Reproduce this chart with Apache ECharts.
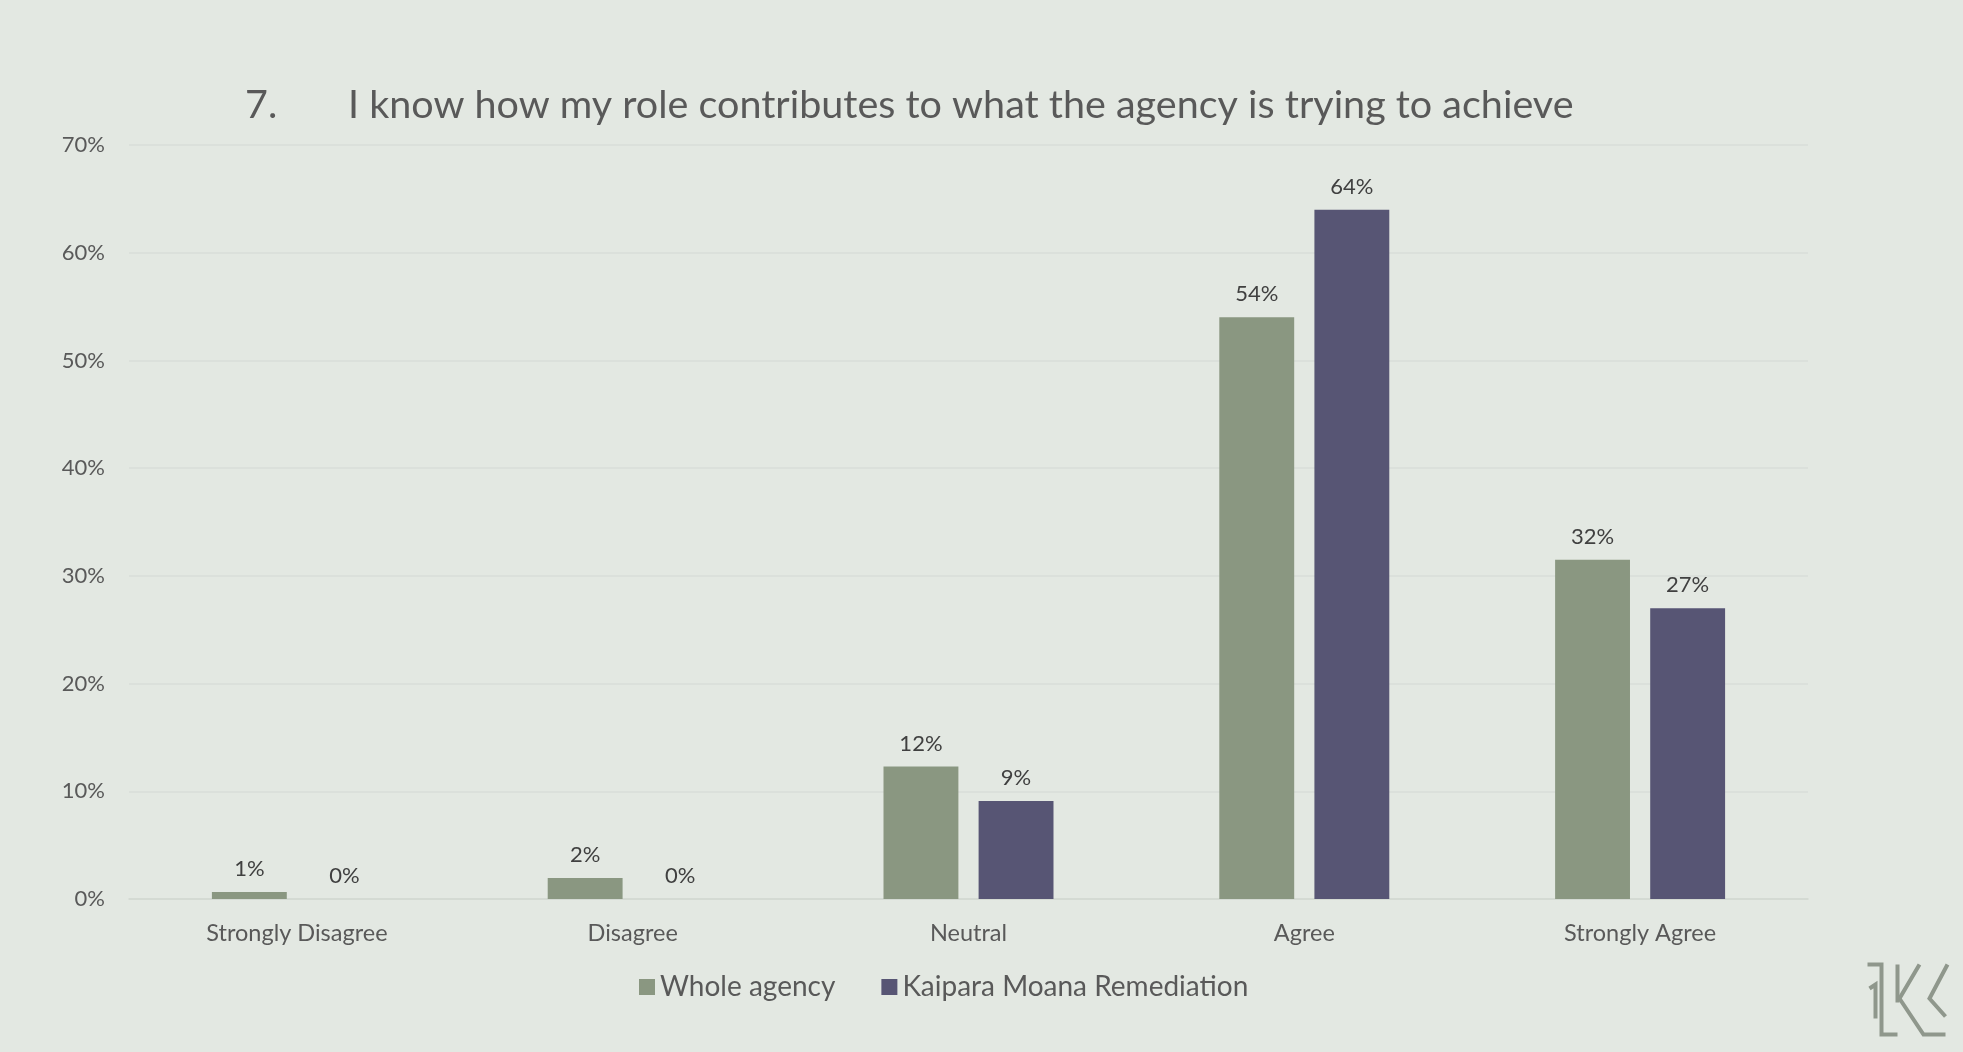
<!DOCTYPE html>
<html>
<head>
<meta charset="utf-8">
<script src="https://cdn.jsdelivr.net/npm/echarts@6/dist/echarts.min.js"></script>
<style>
html,body{margin:0;padding:0;background:#e3e8e2;}
#chart{width:1963px;height:1052px;}
</style>
</head>
<body>
<div id="chart"></div>
<script>
const categories = ['Strongly Disagree', 'Disagree', 'Neutral', 'Agree', 'Strongly Agree'];
const wholeAgency = [0.65, 1.95, 12.3, 54, 31.5];
const kaipara = [0, 0, 9.1, 64, 27];
const seriesNames = ['Whole agency', 'Kaipara Moana Remediation'];
const titleNumber = '7.';
const titleText = 'I know how my role contributes to what the agency is trying to achieve';

const FONT = 'Lato';
const chart = echarts.init(document.getElementById('chart'));
const labelCfg = {
  show: true, position: 'top', distance: 12,
  color: '#404040', fontFamily: FONT, fontSize: 22,
  formatter: p => Math.round(p.value) + '%'
};
chart.setOption({
  backgroundColor: '#e3e8e2',
  title: {
    text: '{n|' + titleNumber + '}{t|' + titleText + '}',
    left: 240, top: 80,
    textStyle: {
      fontWeight: 'normal',
      rich: {
        n: { width: 103, fontFamily: FONT, fontSize: 39.5, fontWeight: 'normal', color: '#595959' },
        t: { fontFamily: FONT, fontSize: 39.5, fontWeight: 'normal', color: '#595959' }
      }
    }
  },
  legend: {
    left: 634, top: 968,
    itemWidth: 16, itemHeight: 16, itemGap: 46,
    icon: 'rect',
    textStyle: { fontFamily: FONT, fontSize: 28, color: '#595959' },
    data: seriesNames
  },
  grid: { left: 129, right: 155, top: 145, bottom: 153, containLabel: false },
  xAxis: {
    type: 'category', data: categories,
    axisLine: { lineStyle: { color: '#d2d7d1', width: 1.5 } },
    axisTick: { show: false },
    axisLabel: { margin: 22, fontFamily: FONT, fontSize: 23.5, color: '#595959' }
  },
  yAxis: {
    type: 'value', min: 0, max: 70, interval: 10,
    axisLine: { show: false }, axisTick: { show: false },
    splitLine: { lineStyle: { color: '#d9ded8', width: 1.5 } },
    axisLabel: { margin: 24, fontFamily: FONT, fontSize: 22, color: '#595959', formatter: '{value}%' }
  },
  series: [
    { name: seriesNames[0], type: 'bar', data: wholeAgency, barWidth: '22.3%', barGap: '27%',
      itemStyle: { color: '#8a9781' }, label: labelCfg },
    { name: seriesNames[1], type: 'bar', data: kaipara, barWidth: '22.3%',
      itemStyle: { color: '#575574' }, label: labelCfg }
  ],
  graphic: [
    { type: 'group', left: 1865, top: 962, silent: true, children: [
      { type: 'polyline', shape: { points: [[0,2],[14,2],[14,72],[30,72]] }, style: { stroke: '#8f978c', lineWidth: 4, fill: null } },
      { type: 'polyline', shape: { points: [[2,26],[8,22],[8,56]] }, style: { stroke: '#8f978c', lineWidth: 4, fill: null } },
      { type: 'polyline', shape: { points: [[30,2],[30,40]] }, style: { stroke: '#8f978c', lineWidth: 4, fill: null } },
      { type: 'polyline', shape: { points: [[52,2],[32,36],[56,72],[78,72]] }, style: { stroke: '#8f978c', lineWidth: 4, fill: null } },
      { type: 'polyline', shape: { points: [[80,2],[62,36],[78,54]] }, style: { stroke: '#8f978c', lineWidth: 4, fill: null } }
    ]}
  ]
});
</script>
</body>
</html>
